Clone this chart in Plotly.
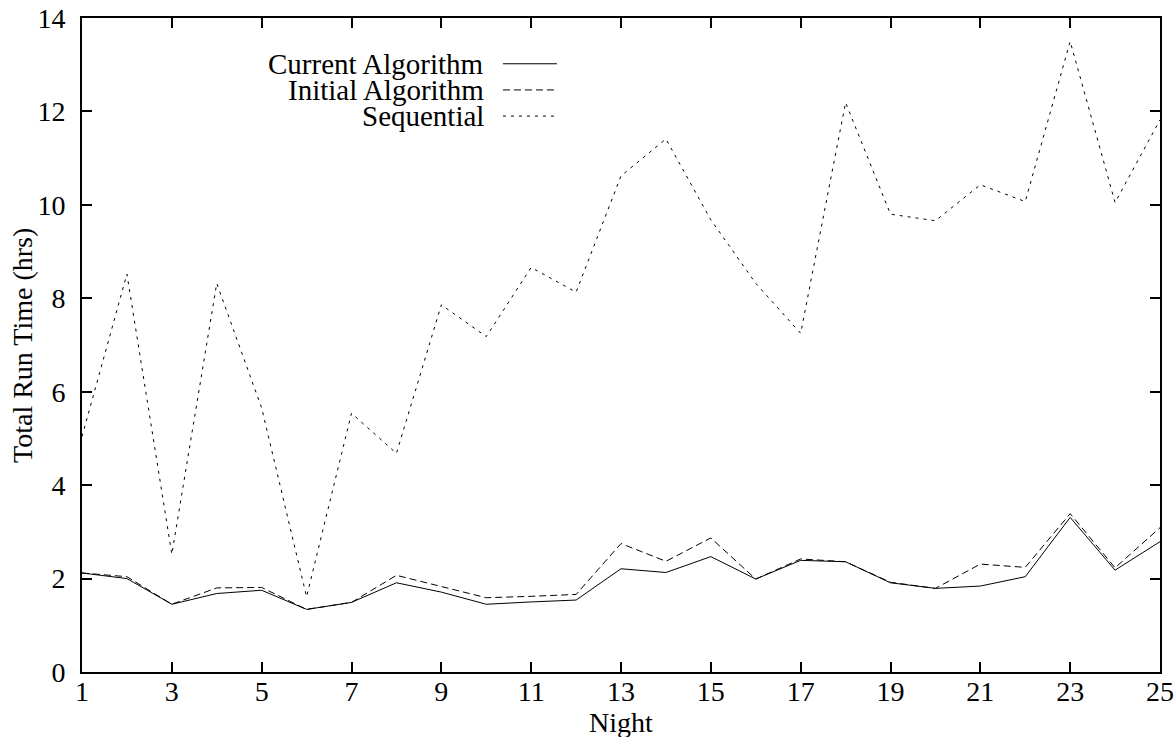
import plotly.graph_objects as go

nights = list(range(1, 26))
current = [2.12, 2.00, 1.45, 1.68, 1.75, 1.34, 1.49, 1.91, 1.71, 1.45, 1.50, 1.54,
           2.21, 2.13, 2.47, 1.99, 2.39, 2.36, 1.91, 1.79, 1.84, 2.04, 3.31, 2.18, 2.79]
initial = [2.12, 2.04, 1.45, 1.80, 1.81, 1.34, 1.49, 2.07, 1.83, 1.59, 1.62, 1.66,
           2.75, 2.37, 2.87, 1.99, 2.42, 2.36, 1.92, 1.79, 2.31, 2.24, 3.39, 2.23, 3.09]
sequential = [5.04, 8.52, 2.52, 8.32, 5.65, 1.61, 5.54, 4.68, 7.86, 7.18, 8.66, 8.13,
              10.62, 11.41, 9.68, 8.32, 7.25, 12.19, 9.80, 9.66, 10.43, 10.07, 13.50, 10.05, 11.82]
series_names = ["Current Algorithm", "Initial Algorithm", "Sequential"]
x_ticks = list(range(1, 26, 2))
y_ticks = list(range(0, 15, 2))

FONT = "Liberation Serif, Times New Roman, serif"
dashes = ["solid", "7px,4px", "3px,5px"]

fig = go.Figure()
for name, vals, d in zip(series_names, [current, initial, sequential], dashes):
    fig.add_trace(go.Scatter(x=nights, y=vals, mode="lines", name=name,
                             line=dict(color="black", width=1, dash=d)))

# gnuplot-style key: text right-aligned, sample line to its right
key_rows = [0.9300, 0.8900, 0.8500]
for name, d, yy in zip(series_names, dashes, key_rows):
    fig.add_annotation(x=0.3748, y=yy, xref="paper", yref="paper", text=name,
                       showarrow=False, xanchor="right", yanchor="middle",
                       font=dict(family=FONT, size=29, color="black"))
    fig.add_shape(type="line", xref="paper", yref="paper", x0=0.3905, x1=0.4406,
                  y0=yy, y1=yy, line=dict(color="black", width=1, dash=d))

# axis titles
fig.add_annotation(x=0.5, y=-0.0765, xref="paper", yref="paper", text="Night",
                   showarrow=False, xanchor="center", yanchor="middle",
                   font=dict(family=FONT, size=28, color="black"))
fig.add_annotation(x=-0.0557, y=0.5, xref="paper", yref="paper", text="Total Run Time (hrs)",
                   showarrow=False, xanchor="center", yanchor="middle", textangle=-90,
                   font=dict(family=FONT, size=28, color="black"))

axis_common = dict(showline=True, linecolor="black", linewidth=2, mirror="ticks",
                   ticks="inside", ticklen=10, tickwidth=2, tickcolor="black",
                   showgrid=False, zeroline=False, automargin=False,
                   tickfont=dict(family=FONT, size=28, color="black"))

fig.update_xaxes(range=[1, 25], tickvals=x_ticks, ticklabelstandoff=-7, **axis_common)
fig.update_yaxes(range=[0, 14], tickvals=y_ticks, ticklabelstandoff=9, **axis_common)

fig.update_layout(width=1175, height=737, showlegend=False,
                  paper_bgcolor="white", plot_bgcolor="white",
                  margin=dict(l=82, r=15, t=18, b=65))

fig.write_html("out.html")
